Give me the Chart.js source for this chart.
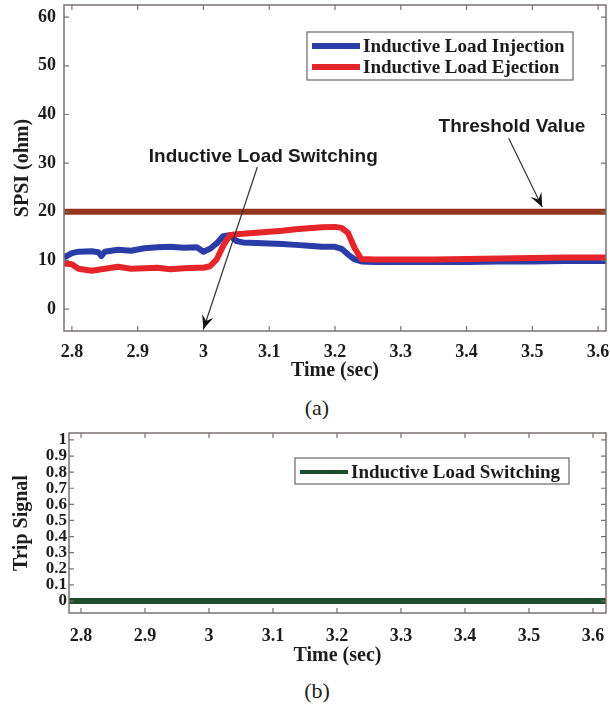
<!DOCTYPE html>
<html>
<head>
<meta charset="utf-8">
<script src="https://cdn.jsdelivr.net/npm/chart.js@4"></script>
<style>
  body { margin: 0; background: #fff; width: 610px; height: 706px; position: relative; overflow: hidden; }
  .wrap { position: absolute; left: 0; width: 610px; }
  .cap { position: absolute; left: 12px; width: 610px; text-align: center; font-family: "Liberation Serif", serif; font-size: 22px; color: #222; }
</style>
</head>
<body>
<div class="wrap" style="top:0;height:390px"><canvas id="spsiChart" width="610" height="390"></canvas></div>
<div class="cap" style="top:395px">(a)</div>
<div class="wrap" style="top:415px;height:260px"><canvas id="tripChart" width="610" height="260"></canvas></div>
<div class="cap" style="top:678px">(b)</div>
<script>
// time axis (sec)
let times = [2.788, 2.80, 2.81, 2.83, 2.84, 2.845, 2.85, 2.87, 2.89, 2.91, 2.93, 2.95, 2.97, 2.99,
  3.00, 3.01, 3.02, 3.03, 3.04, 3.05, 3.06, 3.08, 3.10, 3.12, 3.14, 3.16, 3.18, 3.20, 3.21,
  3.22, 3.23, 3.24, 3.26, 3.30, 3.35, 3.40, 3.45, 3.50, 3.55, 3.60, 3.612];

// SPSI (ohm)
let injection = [10.6, 11.5, 11.8, 11.9, 11.7, 10.9, 11.8, 12.2, 12.0, 12.5, 12.7, 12.8, 12.6, 12.7,
  11.8, 12.4, 13.5, 15.0, 15.2, 14.0, 13.7, 13.6, 13.5, 13.4, 13.2, 13.0, 12.8, 12.8, 12.4,
  11.2, 10.2, 9.8, 9.7, 9.7, 9.7, 9.7, 9.8, 9.8, 9.9, 9.9, 9.9];
let ejection = [9.4, 9.2, 8.3, 7.9, 8.1, 8.2, 8.3, 8.7, 8.3, 8.4, 8.5, 8.2, 8.4, 8.5,
  8.5, 8.8, 10.2, 13.0, 15.2, 15.4, 15.5, 15.7, 15.9, 16.1, 16.4, 16.6, 16.8, 16.9, 16.7,
  15.6, 12.5, 10.3, 10.2, 10.2, 10.2, 10.3, 10.4, 10.5, 10.6, 10.6, 10.6];

let thresholdTimes = [2.78, 3.62],
  thresholdValues = [20, 20];

let tripTimes = [2.78, 3.63],
  tripSignal = [0, 0];

let xTicks = [2.8, 2.9, 3.0, 3.1, 3.2, 3.3, 3.4, 3.5, 3.6],
  xTickLabels = ["2.8", "2.9", "3", "3.1", "3.2", "3.3", "3.4", "3.5", "3.6"],
  spsiTicks = [0, 10, 20, 30, 40, 50, 60],
  tripTicks = [0, 0.1, 0.2, 0.3, 0.4, 0.5, 0.6, 0.7, 0.8, 0.9, 1],
  tripTickLabels = ["0", "0.1", "0.2", "0.3", "0.4", "0.5", "0.6", "0.7", "0.8", "0.9", "1"];

let pts = (xs, ys) => xs.map((x, i) => ({ x: x, y: ys[i] }));

const serif = "'Liberation Serif', 'Times New Roman', serif";
const sans = "'Liberation Sans', Arial, sans-serif";
const frameColor = "#7b726e";
const textColor = "#1c1c1c";

// no extra room for overhanging labels, the plot box is placed by hand
let noMargins = (s) => {
  s.paddingLeft = 0;
  s.paddingRight = 0;
  s.paddingTop = 0;
  s.paddingBottom = 0;
};

// matlab style box with inward ticks on all four sides
let boxPlugin = {
  id: "box",
  afterDatasetsDraw(chart) {
    let { ctx, chartArea: a, scales } = chart;
    ctx.save();
    ctx.strokeStyle = frameColor;
    ctx.lineWidth = 1.5;
    ctx.strokeRect(a.left, a.top, a.right - a.left, a.bottom - a.top);
    ctx.lineWidth = 1.2;
    ctx.beginPath();
    scales.x.ticks.forEach((t, i) => {
      let px = scales.x.getPixelForTick(i);
      ctx.moveTo(px, a.bottom); ctx.lineTo(px, a.bottom - 5);
      ctx.moveTo(px, a.top); ctx.lineTo(px, a.top + 5);
    });
    scales.y.ticks.forEach((t, i) => {
      let py = scales.y.getPixelForTick(i);
      ctx.moveTo(a.left, py); ctx.lineTo(a.left + 5, py);
      ctx.moveTo(a.right, py); ctx.lineTo(a.right - 5, py);
    });
    ctx.stroke();
    ctx.restore();
  },
};

// legend inside the plot, drawn from the dataset labels/colours
let boxLegend = {
  id: "boxLegend",
  afterDraw(chart, args, opts) {
    let ctx = chart.ctx;
    let items = chart.data.datasets.filter((d) => d.inLegend);
    ctx.save();
    ctx.fillStyle = "#fff";
    ctx.fillRect(opts.x, opts.y, opts.w, opts.h);
    ctx.strokeStyle = "#6e6866";
    ctx.lineWidth = 1.2;
    ctx.strokeRect(opts.x, opts.y, opts.w, opts.h);
    ctx.font = "bold 19px " + serif;
    ctx.textBaseline = "middle";
    items.forEach((d, i) => {
      let y = opts.y + opts.first + i * opts.step;
      ctx.strokeStyle = d.borderColor;
      ctx.lineWidth = opts.lineWidth;
      ctx.beginPath();
      ctx.moveTo(opts.x + 5, y);
      ctx.lineTo(opts.x + 53, y);
      ctx.stroke();
      ctx.fillStyle = textColor;
      ctx.fillText(d.label, opts.x + 56, y + 1);
    });
    ctx.restore();
  },
};

let drawArrow = (ctx, x1, y1, x2, y2) => {
  ctx.strokeStyle = "#333";
  ctx.lineWidth = 1.2;
  ctx.beginPath();
  ctx.moveTo(x1, y1);
  ctx.lineTo(x2, y2);
  ctx.stroke();
  let ang = Math.atan2(y2 - y1, x2 - x1);
  let L = 14, W = 6;
  ctx.fillStyle = "#111";
  ctx.beginPath();
  ctx.moveTo(x2, y2);
  ctx.lineTo(x2 - L * Math.cos(ang) + W * Math.sin(ang), y2 - L * Math.sin(ang) - W * Math.cos(ang));
  ctx.lineTo(x2 - 0.6 * L * Math.cos(ang), y2 - 0.6 * L * Math.sin(ang));
  ctx.lineTo(x2 - L * Math.cos(ang) - W * Math.sin(ang), y2 - L * Math.sin(ang) + W * Math.cos(ang));
  ctx.closePath();
  ctx.fill();
};

let notes = {
  id: "notes",
  afterDraw(chart, args, opts) {
    let { ctx, scales } = chart;
    ctx.save();
    opts.items.forEach((n) => {
      ctx.font = "bold 19px " + sans;
      ctx.fillStyle = textColor;
      ctx.textAlign = "center";
      ctx.textBaseline = "middle";
      ctx.fillText(n.text, scales.x.getPixelForValue(n.at[0]), scales.y.getPixelForValue(n.at[1]));
      drawArrow(
        ctx,
        scales.x.getPixelForValue(n.from[0]), scales.y.getPixelForValue(n.from[1]),
        scales.x.getPixelForValue(n.to[0]), scales.y.getPixelForValue(n.to[1])
      );
    });
    ctx.restore();
  },
};

let xScale = (min, max, height, pad, titlePad) => ({
  type: "linear",
  min: min,
  max: max,
  grid: { display: false, drawTicks: false },
  border: { display: false },
  afterBuildTicks: (s) => { s.ticks = xTicks.map((v) => ({ value: v })); },
  afterFit: (s) => { s.height = height; noMargins(s); },
  ticks: {
    padding: pad,
    autoSkip: false,
    maxRotation: 0,
    color: textColor,
    font: { family: serif, size: 18, weight: "bold" },
    callback: (v, i) => xTickLabels[i],
  },
  title: {
    display: true,
    text: "Time (sec)",
    color: textColor,
    font: { family: serif, size: 20, weight: "bold" },
    padding: { top: 0, bottom: titlePad },
  },
});

new Chart(document.getElementById("spsiChart"), {
  type: "line",
  data: {
    datasets: [
      {
        label: "Inductive Load Injection",
        data: pts(times, injection),
        borderColor: "#2a3ca8",
        borderWidth: 6,
        order: 1,
        inLegend: true,
      },
      {
        label: "Inductive Load Ejection",
        data: pts(times, ejection),
        borderColor: "#e5252a",
        borderWidth: 6,
        order: 0,
        inLegend: true,
      },
      {
        label: "Threshold",
        data: pts(thresholdTimes, thresholdValues),
        borderColor: "#95361d",
        borderWidth: 6,
        order: 2,
      },
    ],
  },
  options: {
    responsive: false,
    animation: false,
    layout: { padding: { top: 5, right: 4, left: 0, bottom: 0 } },
    elements: { point: { radius: 0 }, line: { tension: 0, borderJoinStyle: "round", borderCapStyle: "butt" } },
    plugins: {
      legend: { display: false },
      tooltip: { enabled: false },
      boxLegend: { x: 307, y: 32, w: 266, h: 48, first: 14, step: 21, lineWidth: 6 },
      notes: {
        items: [
          { text: "Inductive Load Switching", at: [3.091, 31.4], from: [3.082, 29.2], to: [3.0, -4.1] },
          { text: "Threshold Value", at: [3.469, 37.4], from: [3.464, 35.1], to: [3.515, 21.0] },
        ],
      },
    },
    scales: {
      x: xScale(2.788, 3.612, 59, 11, 7),
      y: {
        min: -4.5,
        max: 62.5,
        grid: { display: false, drawTicks: false },
        border: { display: false },
        afterBuildTicks: (s) => { s.ticks = spsiTicks.map((v) => ({ value: v })); },
        afterFit: (s) => { s.width = 64; noMargins(s); },
        ticks: {
          padding: 8,
          color: textColor,
          font: { family: serif, size: 18, weight: "bold" },
        },
        title: {
          display: true,
          text: "SPSI (ohm)",
          color: textColor,
          font: { family: serif, size: 20, weight: "bold" },
          padding: { top: 11, bottom: 0 },
        },
      },
    },
  },
  plugins: [boxPlugin, boxLegend, notes],
});

new Chart(document.getElementById("tripChart"), {
  type: "line",
  data: {
    datasets: [
      {
        label: "Inductive Load Switching",
        data: pts(tripTimes, tripSignal),
        borderColor: "#1e4d2e",
        borderWidth: 6,
        inLegend: true,
      },
    ],
  },
  options: {
    responsive: false,
    animation: false,
    layout: { padding: { top: 18, right: 4, left: 0, bottom: 0 } },
    elements: { point: { radius: 0 }, line: { tension: 0 } },
    plugins: {
      legend: { display: false },
      tooltip: { enabled: false },
      boxLegend: { x: 295, y: 43, w: 274, h: 26, first: 14, step: 0, lineWidth: 4 },
    },
    scales: {
      x: xScale(2.7813, 3.6203, 62, 13, 7),
      y: {
        min: -0.0745,
        max: 1.043,
        grid: { display: false, drawTicks: false },
        border: { display: false },
        afterBuildTicks: (s) => { s.ticks = tripTicks.map((v) => ({ value: v })); },
        afterFit: (s) => { s.width = 69; noMargins(s); },
        ticks: {
          padding: 2,
          autoSkip: false,
          color: textColor,
          font: { family: serif, size: 17, weight: "bold", lineHeight: 1 },
          callback: (v, i) => tripTickLabels[i],
        },
        title: {
          display: true,
          text: "Trip Signal",
          color: textColor,
          font: { family: serif, size: 20, weight: "bold" },
          padding: { top: 10, bottom: 0 },
        },
      },
    },
  },
  plugins: [boxPlugin, boxLegend],
});
</script>
</body>
</html>
